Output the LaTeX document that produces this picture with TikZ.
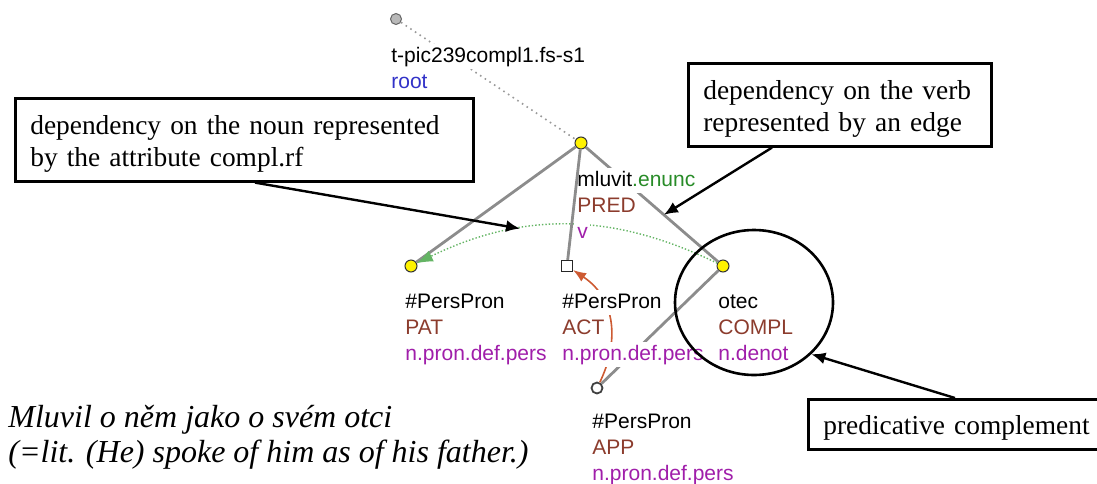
\documentclass[tikz,border=0pt]{standalone}
\usepackage{fontspec}
\setmainfont{Liberation Serif}
\setsansfont{Liberation Sans}
\usepackage{tikz}
\usetikzlibrary{shapes.geometric,arrows.meta,positioning}
\definecolor{funcbrown}{RGB}{140,60,45}
\definecolor{posviolet}{RGB}{160,30,170}
\definecolor{enuncgreen}{RGB}{40,140,40}
\definecolor{rootblue}{RGB}{50,50,200}
\definecolor{edgegray}{RGB}{140,140,140}
\definecolor{rfgreen}{RGB}{100,180,100}
\definecolor{corefred}{RGB}{205,90,50}

\begin{document}
\begin{tikzpicture}[
    x=0.5pt, y=-0.5pt,
    yellownode/.style={circle, draw=black!80, fill=yellow, line width=0.5pt, inner sep=0pt, minimum size=6pt},
    rootnode/.style={circle, draw=black!60, fill=gray!55, line width=0.5pt, inner sep=0pt, minimum size=5.5pt},
    squarenode/.style={rectangle, draw=black!85, fill=white, line width=0.6pt, inner sep=0pt, minimum size=5.5pt},
    hollownode/.style={circle, draw=black!75, fill=white, line width=0.9pt, inner sep=0pt, minimum size=5.5pt},
    attr/.style={font=\sffamily\fontsize{10.5}{12.5}\selectfont, fill=white, inner sep=1pt, text height=8pt, text depth=2.5pt, anchor=north west},
    nextattr/.style={attr, below right=0pt and 0pt of #1.south west},
    edge/.style={draw=edgegray, line width=1.4pt},
    rootedge/.style={draw=gray!80, dotted, line width=0.8pt},
    callout/.style={rectangle, draw, line width=1.3pt, anchor=north west, align=left, inner xsep=7.5pt, inner ysep=0pt, text height=13.5pt, font=\fontsize{13.7}{16.3}\selectfont},
    pointer/.style={draw, line width=1.2pt, -{Latex[length=7pt,width=6pt]}},
    rfarrow/.style={draw=rfgreen, densely dotted, line width=0.7pt, -{Latex[length=8pt,width=6pt]}},
    corefarrow/.style={draw=corefred, line width=0.8pt, -{Latex[length=6.5pt,width=5pt]}}
]
\useasboundingbox (0,0) rectangle (1097,483);

% tree nodes
\node[rootnode] (root) at (396,19) {};
\node[yellownode] (pred) at (581,143) {};
\node[yellownode] (pat) at (411,266) {};
\node[squarenode] (act) at (567,266) {};
\node[yellownode] (compl) at (723,266) {};
\node[hollownode] (app) at (597,388) {};

% edges
\draw[rootedge] (root) -- (pred);
\draw[edge] (pred) -- (pat);
\draw[edge] (pred) -- coordinate[pos=0.59] (verbedge) (compl);
\draw[edge] (compl) -- (app);
\draw[rfarrow] (compl) to[bend right=26] coordinate[pos=0.66] (rfpoint) (pat);
\draw[corefarrow] (app) .. controls (618,345) and (618,300) .. (act);

% labels
\node[attr] (rootid) at ([shift={(-7,25)}]root.center) {t-pic239compl1.fs-s1};
\node[nextattr=rootid, text=rootblue] (roottype) {root};

\node[attr] (predlemma) at ([shift={(-6,25)}]pred.center) {mluvit\textcolor{enuncgreen}{.enunc}};
\node[nextattr=predlemma, text=funcbrown] (predfunc) {PRED};
\node[nextattr=predfunc, text=posviolet] (predpos) {v};

\node[attr] (patlemma) at ([shift={(-8,24)}]pat.center) {\#PersPron};
\node[nextattr=patlemma, text=funcbrown] (patfunc) {PAT};
\node[nextattr=patfunc, text=posviolet] (patpos) {n.pron.def.pers};

\node[attr] (actlemma) at ([shift={(-7,24)}]act.center) {\#PersPron};
\node[nextattr=actlemma, text=funcbrown] (actfunc) {ACT};
\node[nextattr=actfunc, text=posviolet] (actpos) {n.pron.def.pers};

\node[attr] (compllemma) at ([shift={(-7,24)}]compl.center) {otec};
\node[nextattr=compllemma, text=funcbrown] (complfunc) {COMPL};
\node[nextattr=complfunc, text=posviolet] (complpos) {n.denot};

\node[attr] (applemma) at ([shift={(-7,22)}]app.center) {\#PersPron};
\node[nextattr=applemma, text=funcbrown] (appfunc) {APP};
\node[nextattr=appfunc, text=posviolet] (apppos) {n.pron.def.pers};

\draw[edge] (pred) -- (act);

% callouts
\node[callout, text width=214pt, minimum height=41.5pt] (nounbox) at (14,97) {dependency on the noun represented\\by the attribute compl.rf};
\node[callout, text width=136.5pt, minimum height=41.5pt] (verbbox) at (687,62) {dependency on the verb\\represented by an edge};
\node[ellipse, draw, line width=1.3pt, minimum width=79pt, minimum height=72.5pt, inner sep=0pt] (complring) at (754,302.5) {};
\node[callout, text width=140pt, minimum height=25pt] (predbox) at (807,398) {predicative complement};

\draw[pointer] ([xshift=120.5pt]nounbox.south west) -- (rfpoint);
\draw[pointer] ([xshift=42.5pt]verbbox.south west) -- (verbedge);
\draw[pointer] ([xshift=74pt]predbox.north west) -- (complring.-42);

\node[anchor=north west, inner sep=0pt, align=left, font=\itshape\fontsize{16}{17.5}\selectfont] (gloss) at (8,405) {Mluvil o něm jako o svém otci\\(=lit. (He) spoke of him as of his father.)};

\end{tikzpicture}
\end{document}
